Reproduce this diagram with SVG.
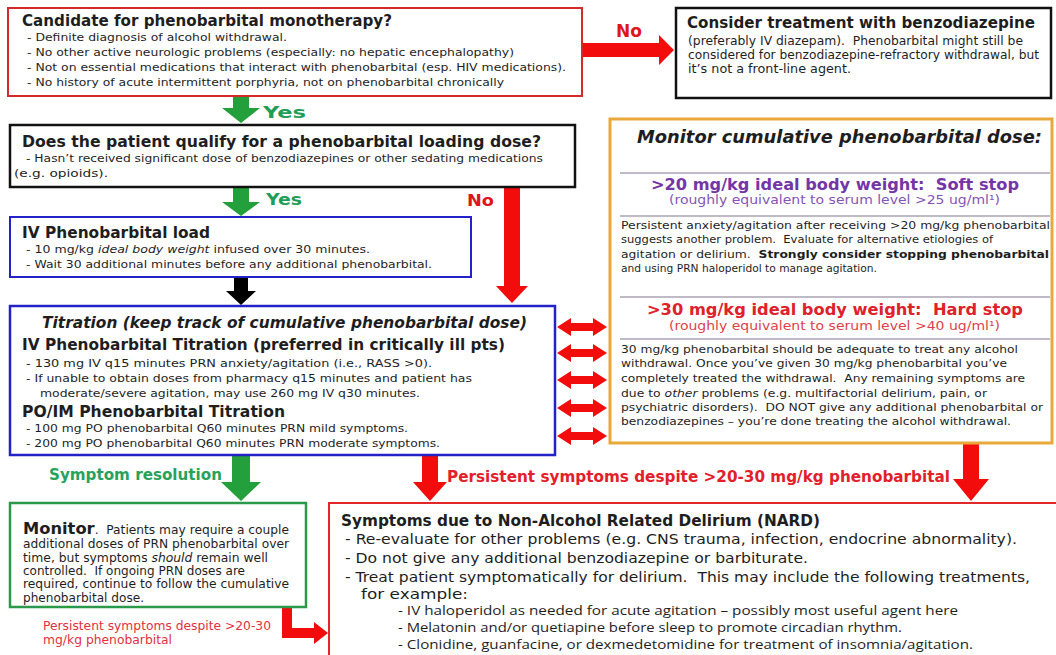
<svg xmlns="http://www.w3.org/2000/svg" width="1056" height="655" viewBox="0 0 1056 655">
<style>
text { font-family: "DejaVu Sans", Verdana, sans-serif; fill: #1e1e1e; white-space: pre; }
.b { font-weight: bold; }
.bi { font-weight: bold; font-style: italic; }
.i { font-style: italic; }
.s11 { font-size: 11px; }
.s12 { font-size: 12px; }
.s13 { font-size: 13px; }
.s15 { font-size: 15px; }
.box { fill: #ffffff; }
.sep { stroke: #aaa3b3; stroke-width: 1.5; }
.red { fill: #f20c0c; }
.grn { fill: #23a03c; }
.nt { font-family: "Open Sans", "Liberation Sans", sans-serif; }
</style>
<defs>
<polygon id="dbl" points="557,0 571,-9 571,-4 593,-4 593,-9 607,0 593,9 593,4 571,4 571,9"/>
</defs>
<rect width="1056" height="655" fill="#ffffff"/>

<g id="connectors">
  <polygon class="red" points="582,43 659,43 659,35 674,50 659,65 659,57 582,57"/>
  <text class="b" x="616" y="37" font-size="17" style="fill:#e0141c">No</text>
  <polygon class="grn" points="233,96 249,96 249,108 260,108 241,123 222,108 233,108"/>
  <text class="b s15" x="263" y="118" textLength="43" lengthAdjust="spacingAndGlyphs" style="fill:#1f9e58">Yes</text>
  <polygon class="grn" points="233,188 249,188 249,202 260,202 241,216 222,202 233,202"/>
  <text class="b s15" x="266" y="205" textLength="36" lengthAdjust="spacingAndGlyphs" style="fill:#1f9e58">Yes</text>
  <polygon class="red" points="504,188 520,188 520,286 528,286 512,303 496,286 504,286"/>
  <text class="b s15" x="467" y="206" textLength="27" lengthAdjust="spacingAndGlyphs" style="fill:#e0141c">No</text>
  <polygon fill="#000000" points="234,278 248,278 248,291 256,291 241,305 226,291 234,291"/>
  <use href="#dbl" y="327" class="red"/>
  <use href="#dbl" y="353" class="red"/>
  <use href="#dbl" y="380" class="red"/>
  <use href="#dbl" y="408" class="red"/>
  <use href="#dbl" y="436" class="red"/>
  <polygon class="grn" points="232,456 250,456 250,482 261,482 241,501 221,482 232,482"/>
  <text class="b s15" x="49" y="480" textLength="173" lengthAdjust="spacingAndGlyphs" style="fill:#27a25a">Symptom resolution</text>
  <polygon class="red" points="422,456 438,456 438,482 447,482 430,501 413,482 422,482"/>
  <polygon class="red" points="963,444 979,444 979,479 989,479 971,501 953,479 963,479"/>
  <text class="b s15" x="447" y="482" textLength="503" lengthAdjust="spacingAndGlyphs" style="fill:#e3202a">Persistent symptoms despite &gt;20-30 mg/kg phenobarbital</text>
  <polygon class="red" points="282,607 292,607 292,628 314,628 314,622 328,633 314,644 314,638 282,638"/>
  <text class="s13" x="43" y="630" textLength="228" lengthAdjust="spacingAndGlyphs" style="fill:#e3303a">Persistent symptoms despite &gt;20-30</text>
  <text class="s13" x="43" y="644" textLength="129" lengthAdjust="spacingAndGlyphs" style="fill:#e3303a">mg/kg phenobarbital</text>
</g>

<g id="candidate">
  <rect class="box" x="8" y="8" width="574" height="88" stroke="#d42a2a" stroke-width="2"/>
  <text class="b s15" x="22" y="26" textLength="370" lengthAdjust="spacingAndGlyphs">Candidate for phenobarbital monotherapy?</text>
  <text class="s11" x="27" y="41" textLength="260" lengthAdjust="spacingAndGlyphs">- Definite diagnosis of alcohol withdrawal.</text>
  <text class="s11" x="27" y="56" textLength="487" lengthAdjust="spacingAndGlyphs">- No other active neurologic problems (especially: no hepatic encephalopathy)</text>
  <text class="s11" x="27" y="71" textLength="539" lengthAdjust="spacingAndGlyphs">- Not on essential medications that interact with phenobarbital (esp. HIV medications).</text>
  <text class="s11" x="27" y="86" textLength="477" lengthAdjust="spacingAndGlyphs">- No history of acute intermittent porphyria, not on phenobarbital chronically</text>
</g>

<g id="benzo">
  <rect class="box" x="676" y="8" width="375" height="90" stroke="#111111" stroke-width="2.5"/>
  <text class="b s15" x="687" y="28" textLength="348" lengthAdjust="spacingAndGlyphs">Consider treatment with benzodiazepine</text>
  <text class="s12" x="688" y="45" textLength="335" lengthAdjust="spacingAndGlyphs">(preferably IV diazepam).  Phenobarbital might still be</text>
  <text class="s12" x="688" y="59" textLength="351" lengthAdjust="spacingAndGlyphs">considered for benzodiazepine-refractory withdrawal, but</text>
  <text class="s12" x="688" y="73" textLength="163" lengthAdjust="spacingAndGlyphs">it’s not a front-line agent.</text>
</g>

<g id="loading">
  <rect class="box" x="10" y="125" width="565" height="62" stroke="#111111" stroke-width="2.5"/>
  <text class="b s15" x="22" y="147" textLength="519" lengthAdjust="spacingAndGlyphs">Does the patient qualify for a phenobarbital loading dose?</text>
  <text class="s11" x="26" y="162" textLength="517" lengthAdjust="spacingAndGlyphs">- Hasn’t received significant dose of benzodiazepines or other sedating medications</text>
  <text class="s11" x="14" y="177" textLength="94" lengthAdjust="spacingAndGlyphs">(e.g. opioids).</text>
</g>

<g id="ivload">
  <rect class="box" x="10" y="217" width="461" height="60" stroke="#2222c8" stroke-width="2"/>
  <text class="b s15" x="22" y="238" textLength="188" lengthAdjust="spacingAndGlyphs">IV Phenobarbital load</text>
  <text class="s11" x="26" y="253" textLength="344" lengthAdjust="spacingAndGlyphs">- 10 mg/kg <tspan class="i">ideal body weight</tspan> infused over 30 minutes.</text>
  <text class="s11" x="26" y="268" textLength="406" lengthAdjust="spacingAndGlyphs">- Wait 30 additional minutes before any additional phenobarbital.</text>
</g>

<g id="titration">
  <rect class="box" x="10" y="306" width="545" height="149" stroke="#2222c8" stroke-width="2.5"/>
  <text class="bi s15" x="42" y="328" textLength="485" lengthAdjust="spacingAndGlyphs">Titration (keep track of cumulative phenobarbital dose)</text>
  <text class="b s15" x="22" y="350" textLength="483" lengthAdjust="spacingAndGlyphs">IV Phenobarbital Titration (preferred in critically ill pts)</text>
  <text class="s11" x="26" y="367" textLength="406" lengthAdjust="spacingAndGlyphs">- 130 mg IV q15 minutes PRN anxiety/agitation (i.e., RASS &gt;0).</text>
  <text class="s11" x="26" y="382" textLength="446" lengthAdjust="spacingAndGlyphs">- If unable to obtain doses from pharmacy q15 minutes and patient has</text>
  <text class="s11" x="40" y="397" textLength="380" lengthAdjust="spacingAndGlyphs">moderate/severe agitation, may use 260 mg IV q30 minutes.</text>
  <text class="b s15" x="22" y="417" textLength="263" lengthAdjust="spacingAndGlyphs">PO/IM Phenobarbital Titration</text>
  <text class="s11" x="26" y="432" textLength="382" lengthAdjust="spacingAndGlyphs">- 100 mg PO phenobarbital Q60 minutes PRN mild symptoms.</text>
  <text class="s11" x="26" y="447" textLength="414" lengthAdjust="spacingAndGlyphs">- 200 mg PO phenobarbital Q60 minutes PRN moderate symptoms.</text>
</g>

<g id="cumulative">
  <rect class="box" x="610" y="119" width="442" height="324" stroke="#e9a93a" stroke-width="3"/>
  <text class="bi" font-size="17" x="637" y="143" textLength="405" lengthAdjust="spacingAndGlyphs">Monitor cumulative phenobarbital dose:</text>
  <line class="sep" x1="620" y1="173" x2="1050" y2="173"/>
  <text class="b" font-size="16" x="651" y="190" textLength="368" lengthAdjust="spacingAndGlyphs" style="fill:#7436a6">&gt;20 mg/kg ideal body weight:  Soft stop</text>
  <text class="s13" x="669" y="204" textLength="331" lengthAdjust="spacingAndGlyphs" style="fill:#8454b4">(roughly equivalent to serum level &gt;25 ug/ml¹)</text>
  <line class="sep" x1="620" y1="216" x2="1050" y2="216"/>
  <text class="s11" x="621" y="229" textLength="429" lengthAdjust="spacingAndGlyphs">Persistent anxiety/agitation after receiving &gt;20 mg/kg phenobarbital</text>
  <text class="s11" x="621" y="243" textLength="372" lengthAdjust="spacingAndGlyphs">suggests another problem.  Evaluate for alternative etiologies of</text>
  <text class="s11" x="621" y="258" textLength="428" lengthAdjust="spacingAndGlyphs">agitation or delirium.  <tspan class="b">Strongly consider stopping phenobarbital</tspan></text>
  <text class="s11" x="621" y="272" textLength="256" lengthAdjust="spacingAndGlyphs">and using PRN haloperidol to manage agitation.</text>
  <line class="sep" x1="620" y1="297" x2="1050" y2="297"/>
  <text class="b" font-size="16" x="647" y="315" textLength="376" lengthAdjust="spacingAndGlyphs" style="fill:#e0202a">&gt;30 mg/kg ideal body weight:  Hard stop</text>
  <text class="s13" x="669" y="330" textLength="331" lengthAdjust="spacingAndGlyphs" style="fill:#e0404a">(roughly equivalent to serum level &gt;40 ug/ml¹)</text>
  <line class="sep" x1="620" y1="339" x2="1050" y2="339"/>
  <text class="s11" x="621" y="353" textLength="397" lengthAdjust="spacingAndGlyphs">30 mg/kg phenobarbital should be adequate to treat any alcohol</text>
  <text class="s11" x="621" y="367" textLength="386" lengthAdjust="spacingAndGlyphs">withdrawal. Once you’ve given 30 mg/kg phenobarbital you’ve</text>
  <text class="s11" x="621" y="382" textLength="404" lengthAdjust="spacingAndGlyphs">completely treated the withdrawal.  Any remaining symptoms are</text>
  <text class="s11" x="621" y="397" textLength="366" lengthAdjust="spacingAndGlyphs">due to <tspan class="i">other</tspan> problems (e.g. multifactorial delirium, pain, or</text>
  <text class="s11" x="621" y="411" textLength="422" lengthAdjust="spacingAndGlyphs">psychiatric disorders).  DO NOT give any additional phenobarbital or</text>
  <text class="s11" x="621" y="425" textLength="390" lengthAdjust="spacingAndGlyphs">benzodiazepines – you’re done treating the alcohol withdrawal.</text>
</g>

<g id="monitor">
  <rect class="box" x="10" y="503" width="296" height="104" stroke="#2a9a4a" stroke-width="2.5"/>
  <text class="s12" x="23" y="534" textLength="266" lengthAdjust="spacingAndGlyphs"><tspan class="b" font-size="16">Monitor</tspan>.  Patients may require a couple</text>
  <text class="s12" x="23" y="548" textLength="266" lengthAdjust="spacingAndGlyphs">additional doses of PRN phenobarbital over</text>
  <text class="s12" x="23" y="562" textLength="245" lengthAdjust="spacingAndGlyphs">time, but symptoms <tspan class="i">should</tspan> remain well</text>
  <text class="s12" x="23" y="575" textLength="222" lengthAdjust="spacingAndGlyphs">controlled.  If ongoing PRN doses are</text>
  <text class="s12" x="23" y="588" textLength="266" lengthAdjust="spacingAndGlyphs">required, continue to follow the cumulative</text>
  <text class="s12" x="23" y="602" textLength="121" lengthAdjust="spacingAndGlyphs">phenobarbital dose.</text>
</g>

<g id="nard">
  <rect class="box" x="329" y="503" width="735" height="160" stroke="#e0282a" stroke-width="2"/>
  <text class="b s15" x="341" y="526" textLength="479" lengthAdjust="spacingAndGlyphs">Symptoms due to Non-Alcohol Related Delirium (NARD)</text>
  <text font-size="14" x="345" y="544" textLength="672" lengthAdjust="spacingAndGlyphs">- Re-evaluate for other problems (e.g. CNS trauma, infection, endocrine abnormality).</text>
  <text font-size="14" x="345" y="563" textLength="463" lengthAdjust="spacingAndGlyphs">- Do not give any additional benzodiazepine or barbiturate.</text>
  <text font-size="14" x="345" y="582" textLength="685" lengthAdjust="spacingAndGlyphs">- Treat patient symptomatically for delirium.  This may include the following treatments,</text>
  <text font-size="14" x="361" y="599" textLength="107" lengthAdjust="spacingAndGlyphs">for example:</text>
  <text class="nt s13" x="398" y="615" textLength="560" lengthAdjust="spacingAndGlyphs">- IV haloperidol as needed for acute agitation – possibly most useful agent here</text>
  <text class="nt s13" x="398" y="632" textLength="504" lengthAdjust="spacingAndGlyphs">- Melatonin and/or quetiapine before sleep to promote circadian rhythm.</text>
  <text class="nt s13" x="398" y="649" textLength="575" lengthAdjust="spacingAndGlyphs">- Clonidine, guanfacine, or dexmedetomidine for treatment of insomnia/agitation.</text>
</g>
</svg>
